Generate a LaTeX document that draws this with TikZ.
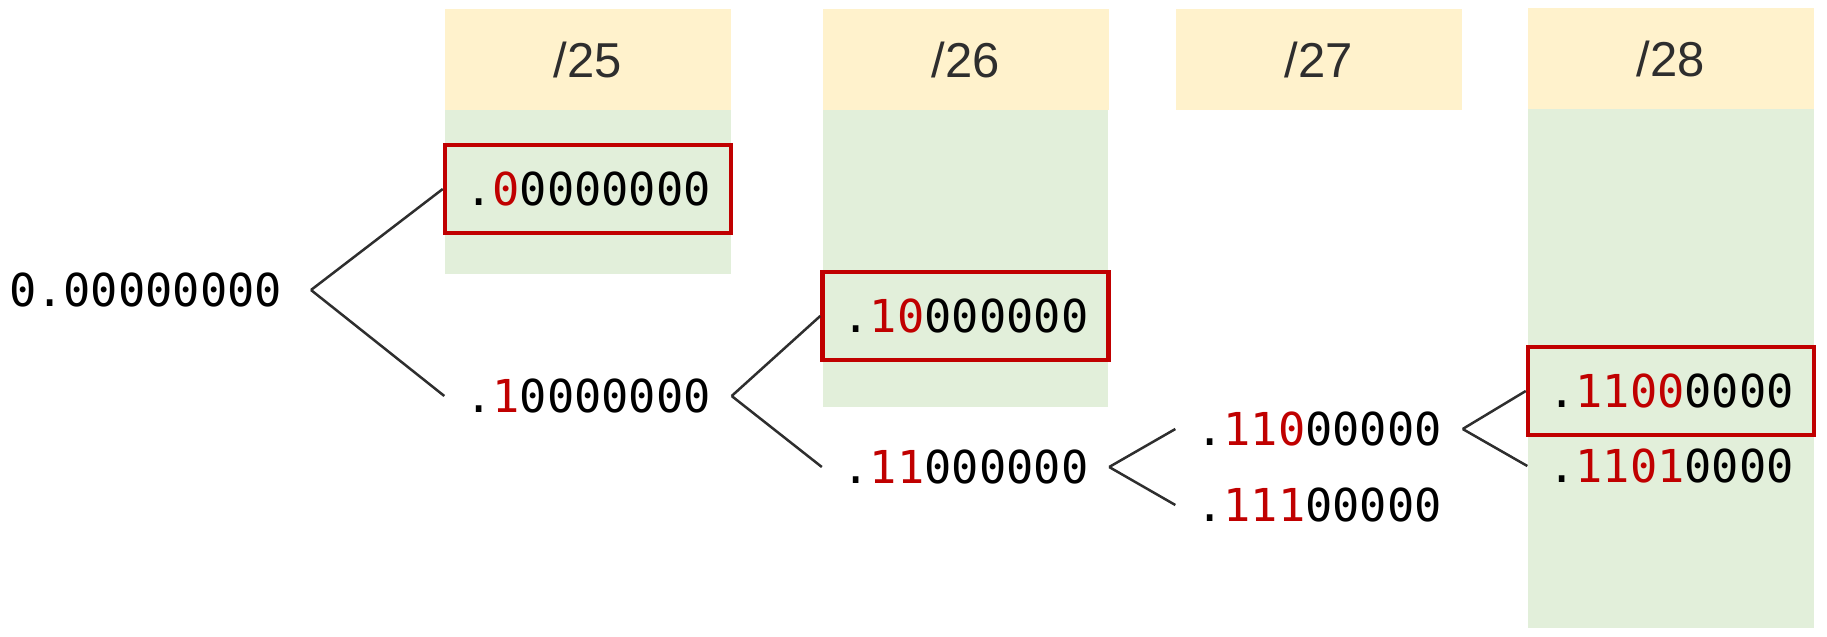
\documentclass[tikz,border=0pt]{standalone}
\usepackage{fontspec}
\setmainfont{Liberation Sans}
\newfontfamily\bitsfont{DejaVu Sans Mono}
\definecolor{bitred}{HTML}{C00000}
\definecolor{headyellow}{HTML}{FFF2CC}
\definecolor{netgreen}{HTML}{E2EFDA}
\newcommand{\hi}[1]{\textcolor{bitred}{#1}}
\begin{document}
\begin{tikzpicture}[x=0.3pt,y=-0.3pt]
    \tikzstyle{every node}=[inner sep=0pt]
    \tikzstyle{bits}=[font=\bitsfont\fontsize{13.6}{16}\selectfont,text height=10pt,text depth=0pt,minimum width=85.8pt]
    \tikzstyle{chosen}=[bits,draw=bitred,line width=1.35pt,minimum height=26.4pt]
    \tikzstyle{head}=[fill=headyellow,text=black!82,font=\fontsize{14.7}{17}\selectfont,minimum width=85.8pt,minimum height=30.3pt]
    \tikzstyle{branch}=[-,line width=0.75pt,draw=black!82]
    \useasboundingbox (0,0) rectangle (1827,636);
    \fill[netgreen] (445,110) rectangle (731,274);
    \fill[netgreen] (823,110) rectangle (1108,407);
    \fill[netgreen] (1528,109) rectangle (1814,628);
    \draw node[head](h25)at(588,59.5){/25}
          node[head](h26)at(965.5,59.5){/26}
          node[head](h27)at(1319,59.5){/27}
          node[head](h28)at(1671,58.5){/28};
    \draw node[bits,minimum width=0pt,inner xsep=8.5pt,anchor=east](root)at(311,290){0.00000000}
          node[chosen](a0)at(588,189){.\hi{0}0000000}
          node[bits](a1)at(588,396){.\hi{1}0000000}
          node[chosen](b0)at(965.5,316){.\hi{10}000000}
          node[bits](b1)at(965.5,467){.\hi{11}000000}
          node[bits](c0)at(1319,429){.\hi{110}00000}
          node[bits](c1)at(1319,505){.\hi{111}00000}
          node[chosen](d0)at(1671,391){.\hi{1100}0000}
          node[bits](d1)at(1671,466){.\hi{1101}0000};
    \draw[branch](root.east)--(a0.west);
    \draw[branch](root.east)--(a1.west);
    \draw[branch](a1.east)--(b0.west);
    \draw[branch](a1.east)--(b1.west);
    \draw[branch](b1.east)--(c0.west);
    \draw[branch](b1.east)--(c1.west);
    \draw[branch](c0.east)--(d0.west);
    \draw[branch](c0.east)--(d1.west);
\end{tikzpicture}
\end{document}
